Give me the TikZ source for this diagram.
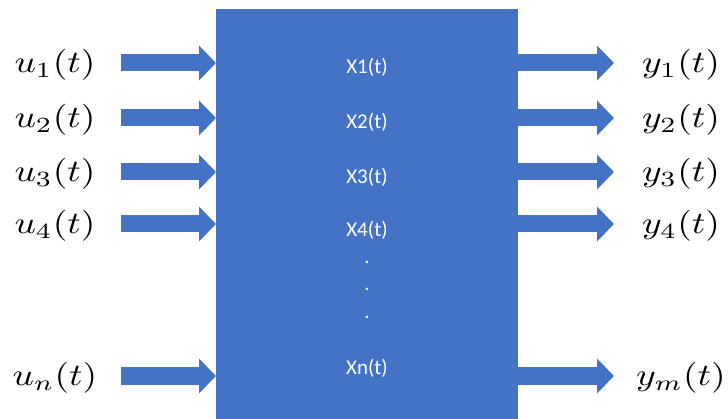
\documentclass[tikz,border=0pt]{standalone}
\usepackage{fontspec}
\newfontfamily\statefont{Carlito}
\usetikzlibrary{arrows.meta}
\definecolor{sysblue}{HTML}{4472C4}
\begin{document}
\begin{tikzpicture}[x=1pt,y=-1pt,
  flow/.style={draw=sysblue,line width=17pt,
    -{Triangle[width=34pt,length=17pt]}},
  sig/.style={inner sep=0pt,xscale=3.75,yscale=3.1},
  state/.style={inner sep=0pt,text=white,
    font=\statefont\fontsize{21}{25}\selectfont}]
  \useasboundingbox (0,0) rectangle (728,419);
  % system block
  \fill[sysblue] (216,9) rectangle (518,419);
  \coordinate (boxW) at (216,200);
  \coordinate (boxE) at (518,200);
  % inputs
  \foreach \i/\r/\s in {1/63/1,2/118/2,3/172/3,4/224/4,n/376/n}{
    \node[sig] (u\i) at (55,\r+2) {$u_{\s}(t)$};
    \coordinate (us\i) at (121,\r);
    \draw[flow] (us\i) -- (us\i -| boxW);
  }
  % outputs
  \foreach \i/\r/\s in {1/63/1,2/118/2,3/172/3,4/224/4,m/376/m}{
    \coordinate (ys\i) at (518,\r);
    \coordinate (ye\i) at (614,\r);
    \draw[flow] (ys\i) -- (ye\i);
    \node[sig] (y\i) at (681,\r+2) {$y_{\s}(t)$};
  }
  % state variables
  \node[state] (x1) at (367,67) {X1(t)};
  \node[state] (x2) at (367,122) {X2(t)};
  \node[state] (x3) at (367,177) {X3(t)};
  \node[state] (x4) at (367,230) {X4(t)};
  \node[state] (xn) at (367,368) {Xn(t)};
  \foreach \d/\yy in {a/262,b/289,c/317}
    \node[state] (dot\d) at (367,\yy) {.};
\end{tikzpicture}
\end{document}
